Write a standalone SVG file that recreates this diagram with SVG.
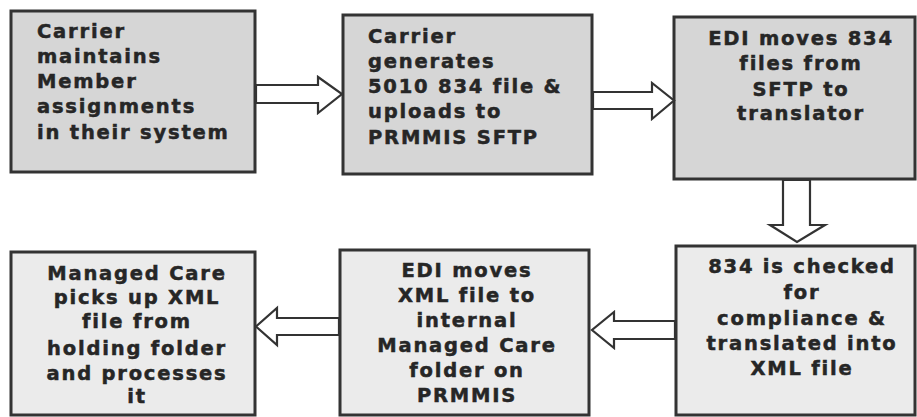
<svg xmlns="http://www.w3.org/2000/svg" width="917" height="417" viewBox="0 0 917 417">
<style>
.box{stroke:#333;stroke-width:3}
.top{fill:#d6d6d6}
.bot{fill:#ebebeb}
.t{font-family:"DejaVu Sans",sans-serif;font-weight:bold;font-size:19.5px;letter-spacing:1.8px;fill:#262626;stroke:#262626;stroke-width:0.5}
.c{text-anchor:middle}
.arr{fill:#fff;stroke:#333;stroke-width:2.2;stroke-linejoin:miter}
</style>
<rect width="917" height="417" fill="#fff"/>
<g id="n1">
<rect class="box top" x="11" y="11" width="244" height="161"/>
<text class="t"><tspan x="37" y="38">Carrier</tspan><tspan x="37" y="63">maintains</tspan><tspan x="37" y="88">Member</tspan><tspan x="37" y="113">assignments</tspan><tspan x="37" y="139">in their system</tspan></text>
</g>
<g id="n2">
<rect class="box top" x="343" y="15" width="249" height="159"/>
<text class="t"><tspan x="368" y="43">Carrier</tspan><tspan x="368" y="68">generates</tspan><tspan x="368" y="93">5010 834 file &amp;</tspan><tspan x="368" y="118">uploads to</tspan><tspan x="368" y="144">PRMMIS SFTP</tspan></text>
</g>
<g id="n3">
<rect class="box top" x="674" y="17" width="241" height="162"/>
<text class="t c"><tspan x="801" y="45">EDI moves 834</tspan><tspan x="801" y="70">files from</tspan><tspan x="801" y="96">SFTP to</tspan><tspan x="801" y="120">translator</tspan></text>
</g>
<g id="n6">
<rect class="box bot" x="676" y="246" width="239" height="169"/>
<text class="t c"><tspan x="802" y="273">834 is checked</tspan><tspan x="802" y="299">for</tspan><tspan x="802" y="325">compliance &amp;</tspan><tspan x="802" y="350">translated into</tspan><tspan x="802" y="375">XML file</tspan></text>
</g>
<g id="n5">
<rect class="box bot" x="340" y="250" width="249" height="165"/>
<text class="t c"><tspan x="467" y="277">EDI moves</tspan><tspan x="467" y="302">XML file to</tspan><tspan x="467" y="327">internal</tspan><tspan x="467" y="352">Managed Care</tspan><tspan x="467" y="377">folder on</tspan><tspan x="467" y="402">PRMMIS</tspan></text>
</g>
<g id="n4">
<rect class="box bot" x="11" y="252" width="244" height="163"/>
<text class="t c"><tspan x="137" y="280">Managed Care</tspan><tspan x="137" y="304">picks up XML</tspan><tspan x="137" y="328">file from</tspan><tspan x="137" y="355">holding folder</tspan><tspan x="137" y="380">and processes</tspan><tspan x="137" y="403">it</tspan></text>
</g>
<g id="connectors">
<polygon class="arr" points="256,85 318,85 318,77 342,94 318,113 318,103 256,103"/>
<polygon class="arr" points="593,92 652,92 652,83 674,100.5 652,119 652,109 593,109"/>
<polygon class="arr" points="783,180 810,180 810,225 825,225 797,242 770,225 783,225"/>
<polygon class="arr" points="675,321 614,321 614,312 592,330 614,348 614,339 675,339"/>
<polygon class="arr" points="339,318 277,318 277,308 256,326.5 277,345 277,335 339,335"/>
</g>
</svg>
